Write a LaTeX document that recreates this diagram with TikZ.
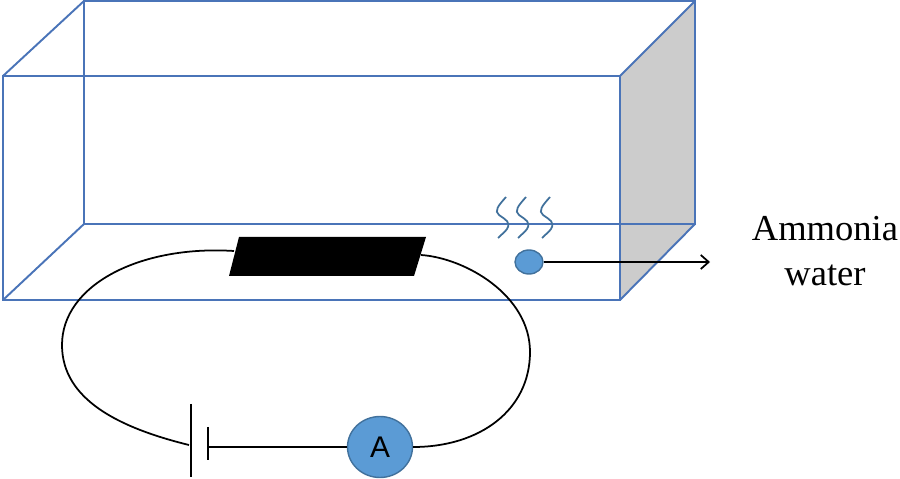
\documentclass[tikz,border=0pt]{standalone}
\usepackage{fontspec}
\setmainfont{Liberation Serif}
\newfontfamily\ammeterfont{Liberation Sans}
\usetikzlibrary{arrows.meta,shapes}
\definecolor{tankblue}{HTML}{4A74B8}
\definecolor{dropblue}{HTML}{5B9BD5}
\definecolor{dropline}{HTML}{41719C}
\definecolor{sidegray}{HTML}{CCCCCC}
\tikzset{
  tank/.style={draw=tankblue,line width=1.1pt},
  wire/.style={draw=black,line width=1pt},
  vapour/.style={draw=dropline,line width=1pt},
  label/.style={font=\fontsize{20.8}{24}\selectfont,inner sep=0pt}
}
\begin{document}
\begin{tikzpicture}[x=0.02cm,y=-0.02cm,>={Straight Barb[length=4.5pt,width=8pt,line width=1pt]}]
                \useasboundingbox (0,0) rectangle (900,479);
                \coordinate (frontTL) at (3,76);
                \coordinate (frontTR) at (620,76);
                \coordinate (frontBR) at (620,300);
                \coordinate (frontBL) at (3,300);
                \coordinate (backTL) at (84,1);
                \coordinate (backTR) at (695,1);
                \coordinate (backBR) at (695,224);
                \coordinate (backBL) at (84,224);
                \coordinate (plateTL) at (239,237);
                \coordinate (plateTR) at (426,237);
                \coordinate (plateBR) at (414,276);
                \coordinate (plateBL) at (229,276);
                \coordinate (plateW) at (234,251);
                \coordinate (plateE) at (421,255);
                \coordinate (loopW) at (62,345);
                \coordinate (loopE) at (530,352);
                \coordinate (cellW) at (189,445);
                \coordinate (cellE) at (208,447);
                \coordinate (longT) at (191,404);
                \coordinate (longB) at (191,477);
                \coordinate (shortT) at (208,427);
                \coordinate (shortB) at (208,460);
                \coordinate (tip) at (710,262);
                \fill[sidegray] (frontTR) -- (backTR) -- (backBR) -- (frontBR) -- cycle;
                \draw[tank] (frontTL) rectangle (frontBR);
                \draw[tank] (backTL) rectangle (backBR);
                \draw[tank] (frontTL) -- (backTL);
                \draw[tank] (frontTR) -- (backTR);
                \draw[tank] (frontBL) -- (backBL);
                \draw[tank] (frontBR) -- (backBR);
                % wires and cell
                \node[shape=ellipse,draw=dropline,fill=dropblue,line width=0.8pt,minimum width=1.3cm,minimum height=1.22cm,inner sep=0pt,font=\ammeterfont\fontsize{17}{20}\selectfont](ammeter)at(380, 447){A};
                \node[shape=ellipse,draw=dropline,fill=dropblue,line width=0.8pt,minimum width=0.56cm,minimum height=0.48cm,inner sep=0pt](drop)at(529, 262){};
                \draw[wire] (plateW) .. controls (140,245) and (62,285) .. (loopW)
                  .. controls (62,400) and (120,428) .. (cellW);
                \draw[wire] (plateE) .. controls (465,258) and (530,295) .. (loopE)
                  .. controls (530,410) and (480,447) .. (ammeter.east);
                \draw[wire] (cellE) -- (ammeter.west);
                \draw[wire,line width=1.2pt] (longT) -- (longB);
                \draw[wire] (shortT) -- (shortB);
                \fill[black] (plateTL) -- (plateTR) -- (plateBR) -- (plateBL) -- cycle;
                % vapour
                \foreach \shift in {0,20,44}{
                  \draw[vapour,xshift=\shift*0.02cm] (506,197) .. controls (498,206) and (494,211) .. (499,215)
                    .. controls (506,220) and (511,222) .. (507,229) .. controls (505,232) and (502,234) .. (498,238);
                }
                \node[label](ammonia)at(825, 229){Ammonia};
                \node[label](water)at(825, 275){water};
                \draw[wire,->] (drop.east) -- (tip);
            \end{tikzpicture}
\end{document}
